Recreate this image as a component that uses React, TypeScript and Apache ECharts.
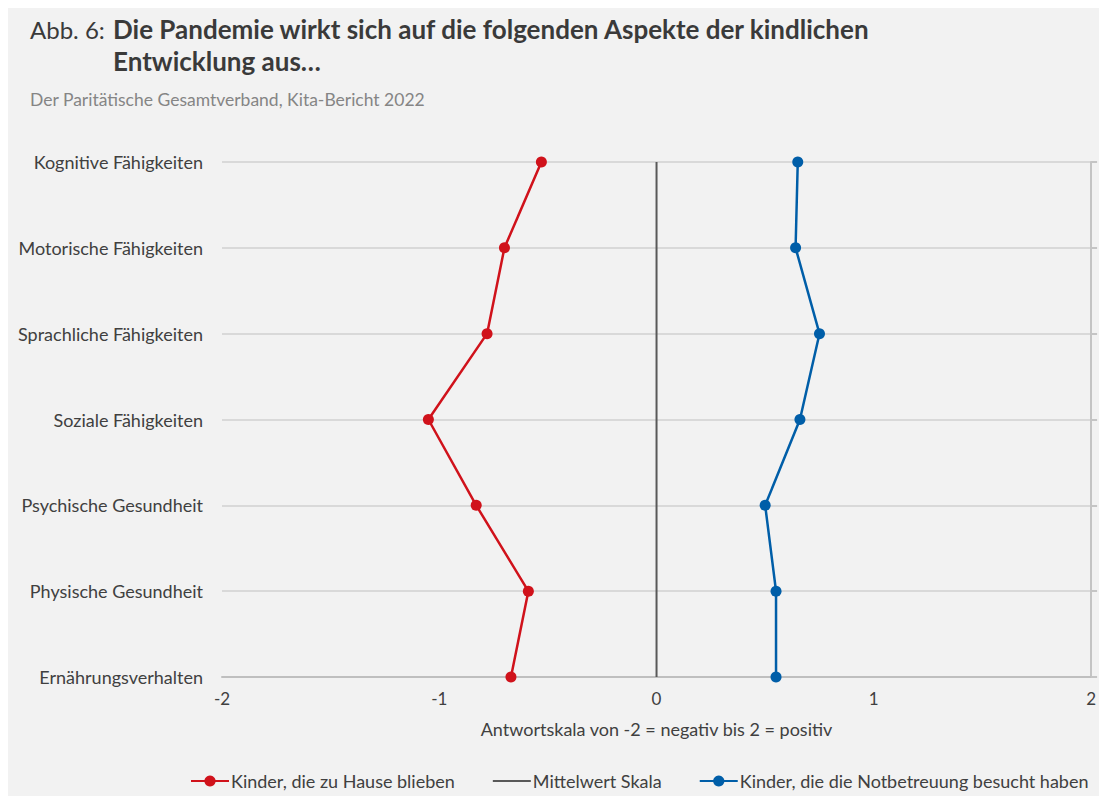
import React, { useEffect, useRef } from "react";
import * as echarts from "echarts";

const categories = [
  "Kognitive Fähigkeiten",
  "Motorische Fähigkeiten",
  "Sprachliche Fähigkeiten",
  "Soziale Fähigkeiten",
  "Psychische Gesundheit",
  "Physische Gesundheit",
  "Ernährungsverhalten",
];
const homeValues = [-0.53, -0.7, -0.78, -1.05, -0.83, -0.59, -0.67];
const careValues = [0.65, 0.64, 0.75, 0.66, 0.5, 0.55, 0.55];
const meanValues = [0, 0, 0, 0, 0, 0, 0];
const seriesNames = [
  "Kinder, die zu Hause blieben",
  "Mittelwert Skala",
  "Kinder, die die Notbetreuung besucht haben",
];
const titlePrefix = "Abb. 6:";
const titleLine1 = "Die Pandemie wirkt sich auf die folgenden Aspekte der kindlichen";
const titleLine2 = "Entwicklung aus…";
const subtitle = "Der Paritätische Gesamtverband, Kita-Bericht 2022";
const xAxisName = "Antwortskala von -2 = negativ bis 2 = positiv";

const FONT = "Lato, 'Open Sans', sans-serif";
const RED = "#d0121b";
const BLUE = "#005ea8";
const GREY = "#595959";

export default function App() {
  const ref = useRef<HTMLDivElement>(null);
  useEffect(() => {
    if (!ref.current) return;
    const chart = echarts.init(ref.current, undefined, { renderer: "svg" });
    const pairs = (vals: number[]) => vals.map((v, i) => [v, categories[i]]);
    chart.setOption({
      animation: false,
      backgroundColor: "#f2f2f2",
      textStyle: { fontFamily: FONT },
      graphic: [
        {
          type: "text",
          left: 22,
          top: 9,
          style: { text: titlePrefix, fontSize: 24, fontFamily: FONT, fill: "#3a3a3a" },
        },
        {
          type: "text",
          left: 105,
          top: 8,
          style: { text: titleLine1, fontSize: 26, fontWeight: "bold", fontFamily: FONT, fill: "#3a3a3a" },
        },
        {
          type: "text",
          left: 105,
          top: 40,
          style: { text: titleLine2, fontSize: 26, fontWeight: "bold", fontFamily: FONT, fill: "#3a3a3a" },
        },
        {
          type: "text",
          left: 22,
          top: 82,
          style: { text: subtitle, fontSize: 17.5, fontFamily: FONT, fill: "#858585" },
        },
      ],
      legend: {
        left: 182,
        top: 764,
        padding: 0,
        itemWidth: 38,
        itemHeight: 14,
        itemGap: 37,
        textStyle: { fontSize: 18, color: "#404040", fontFamily: FONT, padding: [0, 0, 0, -3] },
        data: [
          { name: seriesNames[0] },
          { name: seriesNames[1], itemStyle: { opacity: 0 } },
          { name: seriesNames[2] },
        ],
      },
      grid: { left: 214, right: 7, top: 154, bottom: 119, containLabel: false },
      xAxis: {
        type: "value",
        min: -2,
        max: 2,
        interval: 1,
        axisLine: { show: true, lineStyle: { color: "#bfbfbf", width: 2 } },
        axisTick: { show: false },
        splitLine: { show: false },
        axisLabel: { color: "#404040", fontSize: 17, margin: 13, fontFamily: FONT },
        name: xAxisName,
        nameLocation: "middle",
        nameGap: 43,
        nameTextStyle: { color: "#404040", fontSize: 18, fontFamily: FONT },
      },
      yAxis: [
        {
          type: "category",
          data: categories,
          inverse: true,
          boundaryGap: false,
          axisLine: { show: false },
          axisTick: { show: false },
          axisLabel: { color: "#404040", fontSize: 18, margin: 19, fontFamily: FONT },
          splitLine: { show: true, lineStyle: { color: "#d9d9d9", width: 2 } },
        },
        {
          type: "category",
          data: categories,
          inverse: true,
          boundaryGap: false,
          position: "right",
          axisLine: { show: true, lineStyle: { color: "#c4c4c4", width: 2 } },
          axisTick: { show: true, inside: false, length: 6, lineStyle: { color: "#c4c4c4", width: 2 } },
          axisLabel: { show: false },
          splitLine: { show: false },
        },
      ],
      series: [
        {
          name: seriesNames[1],
          type: "line",
          yAxisIndex: 0,
          data: pairs(meanValues),
          symbol: "none",
          lineStyle: { color: GREY, width: 2 },
          itemStyle: { color: GREY },
          z: 2,
        },
        {
          name: seriesNames[0],
          type: "line",
          yAxisIndex: 0,
          data: pairs(homeValues),
          symbol: "circle",
          symbolSize: 11,
          lineStyle: { color: RED, width: 2.5 },
          itemStyle: { color: RED },
          z: 3,
        },
        {
          name: seriesNames[2],
          type: "line",
          yAxisIndex: 0,
          data: pairs(careValues),
          symbol: "circle",
          symbolSize: 11,
          lineStyle: { color: BLUE, width: 2.5 },
          itemStyle: { color: BLUE },
          z: 3,
        },
      ],
    });
    return () => chart.dispose();
  }, []);
  return (
    <div
      ref={ref}
      style={{ position: "fixed", left: 8, top: 8, width: 1091, height: 788 }}
    />
  );
}
